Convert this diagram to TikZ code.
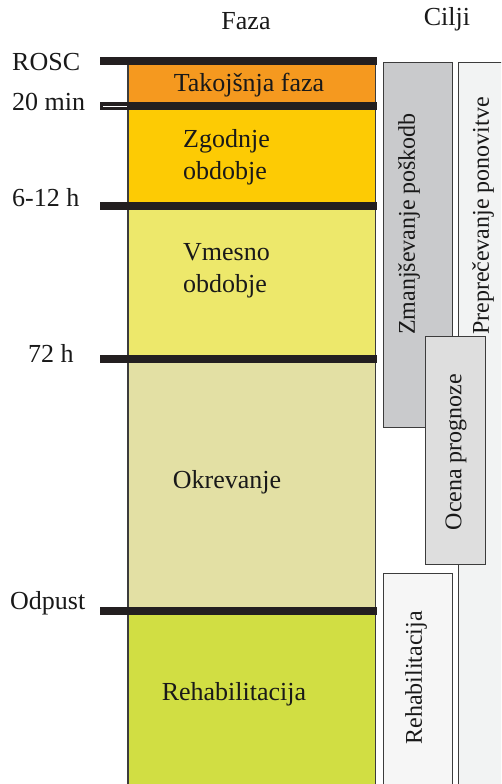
\documentclass[tikz,border=0pt]{standalone}
\usepackage{fontspec}
\setmainfont{Liberation Serif}
\definecolor{barc}{HTML}{231F20}
\definecolor{edge}{HTML}{3C3C3C}
\definecolor{cOrange}{HTML}{F5991F}
\definecolor{cYellow}{HTML}{FDCB04}
\definecolor{cVmes}{HTML}{EDE86B}
\definecolor{cOkr}{HTML}{E3E0A4}
\definecolor{cReh}{HTML}{D1DE43}
\definecolor{gZm}{HTML}{C9CACC}
\definecolor{gOc}{HTML}{DEDEDE}
\definecolor{gPr}{HTML}{F2F3F3}
\definecolor{gRe}{HTML}{F6F6F6}
\tikzset{
  txt/.style={inner sep=0pt, font=\fontsize{26}{32}\selectfont, text=black!90},
  rtxt/.style={txt, rotate=90, font=\fontsize{24}{30}\selectfont},
  phasebox/.style={draw=none, inner sep=0pt, anchor=north west},
  goalbox/.style={draw=edge, line width=1.4pt, inner sep=0pt, anchor=north west},
  bar/.style={draw=barc, line width=8.5pt},
}
\begin{document}
\begin{tikzpicture}[x=1pt,y=-1pt]
\path[use as bounding box] (0,0) rectangle (501,784);
\clip (0,0) rectangle (501,784);
\fill[white] (0,0) rectangle (501,784);
% phases
\node[phasebox, fill=cOrange, minimum width=247pt, minimum height=45pt] (p1) at (128,61) {};
\node[phasebox, fill=cYellow, minimum width=247pt, minimum height=100pt] (p2) at (128,106) {};
\node[phasebox, fill=cVmes, minimum width=247pt, minimum height=153pt] (p3) at (128,206) {};
\node[phasebox, fill=cOkr, minimum width=247pt, minimum height=252pt] (p4) at (128,359) {};
\node[phasebox, fill=cReh, minimum width=247pt, minimum height=185pt] (p5) at (128,611) {};
\draw[edge, line width=1.2pt] (p1.north west) -- (p5.south west);
\draw[edge, line width=1.2pt] (p1.north east) -- (p5.south east);
% bars
\coordinate (b1l) at (100,61);  \coordinate (b1r) at (377,61);
\coordinate (b2l) at (100,106); \coordinate (b2r) at (377,106);
\coordinate (b3l) at (100,206); \coordinate (b3r) at (377,206);
\coordinate (b4l) at (100,359); \coordinate (b4r) at (377,359);
\coordinate (b5l) at (100,611); \coordinate (b5r) at (377,611);
\draw[bar] (b1l) -- (b1r);
\draw[bar] (b2l) -- (b2r);
\draw[white, line width=0.8pt] (103,106) -- (127,106);
\draw[bar] (b3l) -- (b3r);
\draw[bar] (b4l) -- (b4r);
\draw[bar] (b5l) -- (b5r);
% headings
\node[txt] (faza) at (246,21) {Faza};
\node[txt] (cilji) at (447,19) {Cilji};
% time labels
\node[txt, anchor=west] (rosc) at (12,62) {ROSC};
\node[txt, anchor=west] (t20) at (12,102) {20 min};
\node[txt, anchor=west] (t612) at (12,198) {6-12 h};
\node[txt, anchor=west] (t72) at (28,353) {72 h};
\node[txt, anchor=west] (odp) at (10,603) {Odpust};
% phase labels
\node[txt] (l1) at (249,85) {Takojšnja faza};
\node[txt, align=left, anchor=west] (l2) at (183,157) {Zgodnje\\obdobje};
\node[txt, align=left, anchor=west] (l3) at (183,271) {Vmesno\\obdobje};
\node[txt] (l4) at (227,482) {Okrevanje};
\node[txt] (l5) at (234,694) {Rehabilitacija};
% goals
\node[goalbox, fill=gPr, minimum width=60pt, minimum height=740pt] (g1) at (458,62) {};
\node[goalbox, fill=gZm, minimum width=69pt, minimum height=365pt] (g2) at (383,62) {};
\node[goalbox, fill=gOc, minimum width=60pt, minimum height=228pt] (g3) at (425,336) {};
\node[goalbox, fill=gRe, minimum width=69pt, minimum height=230pt] (g4) at (383,573) {};
\node[rtxt] at (483,216) {Preprečevanje ponovitve};
\node[rtxt] at (409,224) {Zmanjševanje poškodb};
\node[rtxt] at (456,452) {Ocena prognoze};
\node[rtxt] at (416,678) {Rehabilitacija};
\end{tikzpicture}
\end{document}
